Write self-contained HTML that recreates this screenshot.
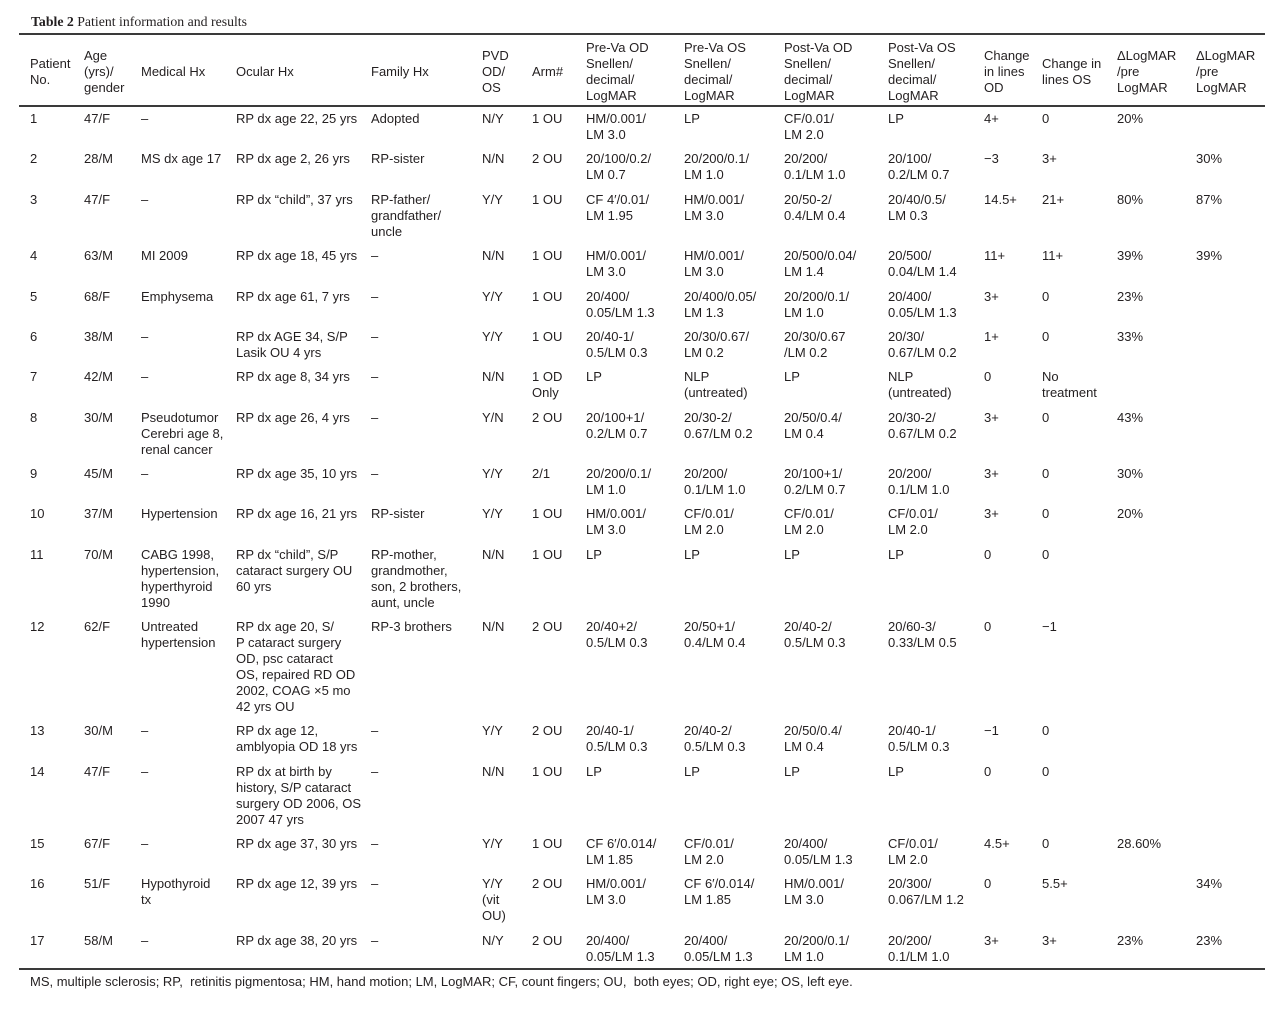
<!DOCTYPE html>
<html><head><meta charset="utf-8">
<style>
html,body{margin:0;padding:0;background:#fff;}
body{width:1285px;height:1010px;position:relative;overflow:hidden;font-family:"Liberation Sans",Arial,sans-serif;font-size:13px;line-height:16px;color:#231f20;}
.c{position:absolute;white-space:nowrap;margin-top:1px;}
.ln{position:absolute;left:19px;width:1246px;height:1.5px;background:#3a3a3a;}
.t{position:absolute;left:31px;top:13px;font-family:"Liberation Serif","Times New Roman",serif;font-size:13.8px;line-height:18px;color:#231f20;white-space:nowrap;}
</style></head><body>
<div class="t"><b>Table 2</b> Patient information and results</div>
<div class="ln" style="top:33px"></div>
<div class="ln" style="top:105px"></div>
<div class="ln" style="top:968px"></div>

<!-- header -->
<div class="c" style="left:30px;top:55px">Patient<br>No.</div>
<div class="c" style="left:84px;top:47px">Age<br>(yrs)/<br>gender</div>
<div class="c" style="left:141px;top:63px">Medical Hx</div>
<div class="c" style="left:236px;top:63px">Ocular Hx</div>
<div class="c" style="left:371px;top:63px">Family Hx</div>
<div class="c" style="left:482px;top:47px">PVD<br>OD/<br>OS</div>
<div class="c" style="left:532px;top:63px">Arm#</div>
<div class="c" style="left:586px;top:39px">Pre-Va OD<br>Snellen/<br>decimal/<br>LogMAR</div>
<div class="c" style="left:684px;top:39px">Pre-Va OS<br>Snellen/<br>decimal/<br>LogMAR</div>
<div class="c" style="left:784px;top:39px">Post-Va OD<br>Snellen/<br>decimal/<br>LogMAR</div>
<div class="c" style="left:888px;top:39px">Post-Va OS<br>Snellen/<br>decimal/<br>LogMAR</div>
<div class="c" style="left:984px;top:47px">Change<br>in lines<br>OD</div>
<div class="c" style="left:1042px;top:55px">Change in<br>lines OS</div>
<div class="c" style="left:1117px;top:47px">ΔLogMAR<br>/pre<br>LogMAR</div>
<div class="c" style="left:1196px;top:47px">ΔLogMAR<br>/pre<br>LogMAR</div>

<!-- row 1 -->
<div class="c" style="left:30px;top:110px">1</div>
<div class="c" style="left:84px;top:110px">47/F</div>
<div class="c" style="left:141px;top:110px">–</div>
<div class="c" style="left:236px;top:110px">RP dx age 22, 25 yrs</div>
<div class="c" style="left:371px;top:110px">Adopted</div>
<div class="c" style="left:482px;top:110px">N/Y</div>
<div class="c" style="left:532px;top:110px">1 OU</div>
<div class="c" style="left:586px;top:110px">HM/0.001/<br>LM 3.0</div>
<div class="c" style="left:684px;top:110px">LP</div>
<div class="c" style="left:784px;top:110px">CF/0.01/<br>LM 2.0</div>
<div class="c" style="left:888px;top:110px">LP</div>
<div class="c" style="left:984px;top:110px">4+</div>
<div class="c" style="left:1042px;top:110px">0</div>
<div class="c" style="left:1117px;top:110px">20%</div>

<!-- row 2 -->
<div class="c" style="left:30px;top:150px">2</div>
<div class="c" style="left:84px;top:150px">28/M</div>
<div class="c" style="left:141px;top:150px">MS dx age 17</div>
<div class="c" style="left:236px;top:150px">RP dx age 2, 26 yrs</div>
<div class="c" style="left:371px;top:150px">RP-sister</div>
<div class="c" style="left:482px;top:150px">N/N</div>
<div class="c" style="left:532px;top:150px">2 OU</div>
<div class="c" style="left:586px;top:150px">20/100/0.2/<br>LM 0.7</div>
<div class="c" style="left:684px;top:150px">20/200/0.1/<br>LM 1.0</div>
<div class="c" style="left:784px;top:150px">20/200/<br>0.1/LM 1.0</div>
<div class="c" style="left:888px;top:150px">20/100/<br>0.2/LM 0.7</div>
<div class="c" style="left:984px;top:150px">−3</div>
<div class="c" style="left:1042px;top:150px">3+</div>
<div class="c" style="left:1196px;top:150px">30%</div>

<!-- row 3 -->
<div class="c" style="left:30px;top:191px">3</div>
<div class="c" style="left:84px;top:191px">47/F</div>
<div class="c" style="left:141px;top:191px">–</div>
<div class="c" style="left:236px;top:191px">RP dx “child”, 37 yrs</div>
<div class="c" style="left:371px;top:191px">RP-father/<br>grandfather/<br>uncle</div>
<div class="c" style="left:482px;top:191px">Y/Y</div>
<div class="c" style="left:532px;top:191px">1 OU</div>
<div class="c" style="left:586px;top:191px">CF 4′/0.01/<br>LM 1.95</div>
<div class="c" style="left:684px;top:191px">HM/0.001/<br>LM 3.0</div>
<div class="c" style="left:784px;top:191px">20/50-2/<br>0.4/LM 0.4</div>
<div class="c" style="left:888px;top:191px">20/40/0.5/<br>LM 0.3</div>
<div class="c" style="left:984px;top:191px">14.5+</div>
<div class="c" style="left:1042px;top:191px">21+</div>
<div class="c" style="left:1117px;top:191px">80%</div>
<div class="c" style="left:1196px;top:191px">87%</div>

<!-- row 4 -->
<div class="c" style="left:30px;top:247px">4</div>
<div class="c" style="left:84px;top:247px">63/M</div>
<div class="c" style="left:141px;top:247px">MI 2009</div>
<div class="c" style="left:236px;top:247px">RP dx age 18, 45 yrs</div>
<div class="c" style="left:371px;top:247px">–</div>
<div class="c" style="left:482px;top:247px">N/N</div>
<div class="c" style="left:532px;top:247px">1 OU</div>
<div class="c" style="left:586px;top:247px">HM/0.001/<br>LM 3.0</div>
<div class="c" style="left:684px;top:247px">HM/0.001/<br>LM 3.0</div>
<div class="c" style="left:784px;top:247px">20/500/0.04/<br>LM 1.4</div>
<div class="c" style="left:888px;top:247px">20/500/<br>0.04/LM 1.4</div>
<div class="c" style="left:984px;top:247px">11+</div>
<div class="c" style="left:1042px;top:247px">11+</div>
<div class="c" style="left:1117px;top:247px">39%</div>
<div class="c" style="left:1196px;top:247px">39%</div>

<!-- row 5 -->
<div class="c" style="left:30px;top:288px">5</div>
<div class="c" style="left:84px;top:288px">68/F</div>
<div class="c" style="left:141px;top:288px">Emphysema</div>
<div class="c" style="left:236px;top:288px">RP dx age 61, 7 yrs</div>
<div class="c" style="left:371px;top:288px">–</div>
<div class="c" style="left:482px;top:288px">Y/Y</div>
<div class="c" style="left:532px;top:288px">1 OU</div>
<div class="c" style="left:586px;top:288px">20/400/<br>0.05/LM 1.3</div>
<div class="c" style="left:684px;top:288px">20/400/0.05/<br>LM 1.3</div>
<div class="c" style="left:784px;top:288px">20/200/0.1/<br>LM 1.0</div>
<div class="c" style="left:888px;top:288px">20/400/<br>0.05/LM 1.3</div>
<div class="c" style="left:984px;top:288px">3+</div>
<div class="c" style="left:1042px;top:288px">0</div>
<div class="c" style="left:1117px;top:288px">23%</div>

<!-- row 6 -->
<div class="c" style="left:30px;top:328px">6</div>
<div class="c" style="left:84px;top:328px">38/M</div>
<div class="c" style="left:141px;top:328px">–</div>
<div class="c" style="left:236px;top:328px">RP dx AGE 34, S/P<br>Lasik OU 4 yrs</div>
<div class="c" style="left:371px;top:328px">–</div>
<div class="c" style="left:482px;top:328px">Y/Y</div>
<div class="c" style="left:532px;top:328px">1 OU</div>
<div class="c" style="left:586px;top:328px">20/40-1/<br>0.5/LM 0.3</div>
<div class="c" style="left:684px;top:328px">20/30/0.67/<br>LM 0.2</div>
<div class="c" style="left:784px;top:328px">20/30/0.67<br>/LM 0.2</div>
<div class="c" style="left:888px;top:328px">20/30/<br>0.67/LM 0.2</div>
<div class="c" style="left:984px;top:328px">1+</div>
<div class="c" style="left:1042px;top:328px">0</div>
<div class="c" style="left:1117px;top:328px">33%</div>

<!-- row 7 -->
<div class="c" style="left:30px;top:368px">7</div>
<div class="c" style="left:84px;top:368px">42/M</div>
<div class="c" style="left:141px;top:368px">–</div>
<div class="c" style="left:236px;top:368px">RP dx age 8, 34 yrs</div>
<div class="c" style="left:371px;top:368px">–</div>
<div class="c" style="left:482px;top:368px">N/N</div>
<div class="c" style="left:532px;top:368px">1 OD<br>Only</div>
<div class="c" style="left:586px;top:368px">LP</div>
<div class="c" style="left:684px;top:368px">NLP<br>(untreated)</div>
<div class="c" style="left:784px;top:368px">LP</div>
<div class="c" style="left:888px;top:368px">NLP<br>(untreated)</div>
<div class="c" style="left:984px;top:368px">0</div>
<div class="c" style="left:1042px;top:368px">No<br>treatment</div>

<!-- row 8 -->
<div class="c" style="left:30px;top:409px">8</div>
<div class="c" style="left:84px;top:409px">30/M</div>
<div class="c" style="left:141px;top:409px">Pseudotumor<br>Cerebri age 8,<br>renal cancer</div>
<div class="c" style="left:236px;top:409px">RP dx age 26, 4 yrs</div>
<div class="c" style="left:371px;top:409px">–</div>
<div class="c" style="left:482px;top:409px">Y/N</div>
<div class="c" style="left:532px;top:409px">2 OU</div>
<div class="c" style="left:586px;top:409px">20/100+1/<br>0.2/LM 0.7</div>
<div class="c" style="left:684px;top:409px">20/30-2/<br>0.67/LM 0.2</div>
<div class="c" style="left:784px;top:409px">20/50/0.4/<br>LM 0.4</div>
<div class="c" style="left:888px;top:409px">20/30-2/<br>0.67/LM 0.2</div>
<div class="c" style="left:984px;top:409px">3+</div>
<div class="c" style="left:1042px;top:409px">0</div>
<div class="c" style="left:1117px;top:409px">43%</div>

<!-- row 9 -->
<div class="c" style="left:30px;top:465px">9</div>
<div class="c" style="left:84px;top:465px">45/M</div>
<div class="c" style="left:141px;top:465px">–</div>
<div class="c" style="left:236px;top:465px">RP dx age 35, 10 yrs</div>
<div class="c" style="left:371px;top:465px">–</div>
<div class="c" style="left:482px;top:465px">Y/Y</div>
<div class="c" style="left:532px;top:465px">2/1</div>
<div class="c" style="left:586px;top:465px">20/200/0.1/<br>LM 1.0</div>
<div class="c" style="left:684px;top:465px">20/200/<br>0.1/LM 1.0</div>
<div class="c" style="left:784px;top:465px">20/100+1/<br>0.2/LM 0.7</div>
<div class="c" style="left:888px;top:465px">20/200/<br>0.1/LM 1.0</div>
<div class="c" style="left:984px;top:465px">3+</div>
<div class="c" style="left:1042px;top:465px">0</div>
<div class="c" style="left:1117px;top:465px">30%</div>

<!-- row 10 -->
<div class="c" style="left:30px;top:505px">10</div>
<div class="c" style="left:84px;top:505px">37/M</div>
<div class="c" style="left:141px;top:505px">Hypertension</div>
<div class="c" style="left:236px;top:505px">RP dx age 16, 21 yrs</div>
<div class="c" style="left:371px;top:505px">RP-sister</div>
<div class="c" style="left:482px;top:505px">Y/Y</div>
<div class="c" style="left:532px;top:505px">1 OU</div>
<div class="c" style="left:586px;top:505px">HM/0.001/<br>LM 3.0</div>
<div class="c" style="left:684px;top:505px">CF/0.01/<br>LM 2.0</div>
<div class="c" style="left:784px;top:505px">CF/0.01/<br>LM 2.0</div>
<div class="c" style="left:888px;top:505px">CF/0.01/<br>LM 2.0</div>
<div class="c" style="left:984px;top:505px">3+</div>
<div class="c" style="left:1042px;top:505px">0</div>
<div class="c" style="left:1117px;top:505px">20%</div>

<!-- row 11 -->
<div class="c" style="left:30px;top:546px">11</div>
<div class="c" style="left:84px;top:546px">70/M</div>
<div class="c" style="left:141px;top:546px">CABG 1998,<br>hypertension,<br>hyperthyroid<br>1990</div>
<div class="c" style="left:236px;top:546px">RP dx “child”, S/P<br>cataract surgery OU<br>60 yrs</div>
<div class="c" style="left:371px;top:546px">RP-mother,<br>grandmother,<br>son, 2 brothers,<br>aunt, uncle</div>
<div class="c" style="left:482px;top:546px">N/N</div>
<div class="c" style="left:532px;top:546px">1 OU</div>
<div class="c" style="left:586px;top:546px">LP</div>
<div class="c" style="left:684px;top:546px">LP</div>
<div class="c" style="left:784px;top:546px">LP</div>
<div class="c" style="left:888px;top:546px">LP</div>
<div class="c" style="left:984px;top:546px">0</div>
<div class="c" style="left:1042px;top:546px">0</div>

<!-- row 12 -->
<div class="c" style="left:30px;top:618px">12</div>
<div class="c" style="left:84px;top:618px">62/F</div>
<div class="c" style="left:141px;top:618px">Untreated<br>hypertension</div>
<div class="c" style="left:236px;top:618px">RP dx age 20, S/<br>P cataract surgery<br>OD, psc cataract<br>OS, repaired RD OD<br>2002, COAG ×5 mo<br>42 yrs OU</div>
<div class="c" style="left:371px;top:618px">RP-3 brothers</div>
<div class="c" style="left:482px;top:618px">N/N</div>
<div class="c" style="left:532px;top:618px">2 OU</div>
<div class="c" style="left:586px;top:618px">20/40+2/<br>0.5/LM 0.3</div>
<div class="c" style="left:684px;top:618px">20/50+1/<br>0.4/LM 0.4</div>
<div class="c" style="left:784px;top:618px">20/40-2/<br>0.5/LM 0.3</div>
<div class="c" style="left:888px;top:618px">20/60-3/<br>0.33/LM 0.5</div>
<div class="c" style="left:984px;top:618px">0</div>
<div class="c" style="left:1042px;top:618px">−1</div>

<!-- row 13 -->
<div class="c" style="left:30px;top:722px">13</div>
<div class="c" style="left:84px;top:722px">30/M</div>
<div class="c" style="left:141px;top:722px">–</div>
<div class="c" style="left:236px;top:722px">RP dx age 12,<br>amblyopia OD 18 yrs</div>
<div class="c" style="left:371px;top:722px">–</div>
<div class="c" style="left:482px;top:722px">Y/Y</div>
<div class="c" style="left:532px;top:722px">2 OU</div>
<div class="c" style="left:586px;top:722px">20/40-1/<br>0.5/LM 0.3</div>
<div class="c" style="left:684px;top:722px">20/40-2/<br>0.5/LM 0.3</div>
<div class="c" style="left:784px;top:722px">20/50/0.4/<br>LM 0.4</div>
<div class="c" style="left:888px;top:722px">20/40-1/<br>0.5/LM 0.3</div>
<div class="c" style="left:984px;top:722px">−1</div>
<div class="c" style="left:1042px;top:722px">0</div>

<!-- row 14 -->
<div class="c" style="left:30px;top:763px">14</div>
<div class="c" style="left:84px;top:763px">47/F</div>
<div class="c" style="left:141px;top:763px">–</div>
<div class="c" style="left:236px;top:763px">RP dx at birth by<br>history, S/P cataract<br>surgery OD 2006, OS<br>2007 47 yrs</div>
<div class="c" style="left:371px;top:763px">–</div>
<div class="c" style="left:482px;top:763px">N/N</div>
<div class="c" style="left:532px;top:763px">1 OU</div>
<div class="c" style="left:586px;top:763px">LP</div>
<div class="c" style="left:684px;top:763px">LP</div>
<div class="c" style="left:784px;top:763px">LP</div>
<div class="c" style="left:888px;top:763px">LP</div>
<div class="c" style="left:984px;top:763px">0</div>
<div class="c" style="left:1042px;top:763px">0</div>

<!-- row 15 -->
<div class="c" style="left:30px;top:835px">15</div>
<div class="c" style="left:84px;top:835px">67/F</div>
<div class="c" style="left:141px;top:835px">–</div>
<div class="c" style="left:236px;top:835px">RP dx age 37, 30 yrs</div>
<div class="c" style="left:371px;top:835px">–</div>
<div class="c" style="left:482px;top:835px">Y/Y</div>
<div class="c" style="left:532px;top:835px">1 OU</div>
<div class="c" style="left:586px;top:835px">CF 6′/0.014/<br>LM 1.85</div>
<div class="c" style="left:684px;top:835px">CF/0.01/<br>LM 2.0</div>
<div class="c" style="left:784px;top:835px">20/400/<br>0.05/LM 1.3</div>
<div class="c" style="left:888px;top:835px">CF/0.01/<br>LM 2.0</div>
<div class="c" style="left:984px;top:835px">4.5+</div>
<div class="c" style="left:1042px;top:835px">0</div>
<div class="c" style="left:1117px;top:835px">28.60%</div>

<!-- row 16 -->
<div class="c" style="left:30px;top:875px">16</div>
<div class="c" style="left:84px;top:875px">51/F</div>
<div class="c" style="left:141px;top:875px">Hypothyroid<br>tx</div>
<div class="c" style="left:236px;top:875px">RP dx age 12, 39 yrs</div>
<div class="c" style="left:371px;top:875px">–</div>
<div class="c" style="left:482px;top:875px">Y/Y<br>(vit<br>OU)</div>
<div class="c" style="left:532px;top:875px">2 OU</div>
<div class="c" style="left:586px;top:875px">HM/0.001/<br>LM 3.0</div>
<div class="c" style="left:684px;top:875px">CF 6′/0.014/<br>LM 1.85</div>
<div class="c" style="left:784px;top:875px">HM/0.001/<br>LM 3.0</div>
<div class="c" style="left:888px;top:875px">20/300/<br>0.067/LM 1.2</div>
<div class="c" style="left:984px;top:875px">0</div>
<div class="c" style="left:1042px;top:875px">5.5+</div>
<div class="c" style="left:1196px;top:875px">34%</div>

<!-- row 17 -->
<div class="c" style="left:30px;top:932px">17</div>
<div class="c" style="left:84px;top:932px">58/M</div>
<div class="c" style="left:141px;top:932px">–</div>
<div class="c" style="left:236px;top:932px">RP dx age 38, 20 yrs</div>
<div class="c" style="left:371px;top:932px">–</div>
<div class="c" style="left:482px;top:932px">N/Y</div>
<div class="c" style="left:532px;top:932px">2 OU</div>
<div class="c" style="left:586px;top:932px">20/400/<br>0.05/LM 1.3</div>
<div class="c" style="left:684px;top:932px">20/400/<br>0.05/LM 1.3</div>
<div class="c" style="left:784px;top:932px">20/200/0.1/<br>LM 1.0</div>
<div class="c" style="left:888px;top:932px">20/200/<br>0.1/LM 1.0</div>
<div class="c" style="left:984px;top:932px">3+</div>
<div class="c" style="left:1042px;top:932px">3+</div>
<div class="c" style="left:1117px;top:932px">23%</div>
<div class="c" style="left:1196px;top:932px">23%</div>

<div class="c" style="left:30px;top:973px">MS, multiple sclerosis; RP,&nbsp; retinitis pigmentosa; HM, hand motion; LM, LogMAR; CF, count fingers; OU,&nbsp; both eyes; OD, right eye; OS, left eye.</div>
</body></html>
